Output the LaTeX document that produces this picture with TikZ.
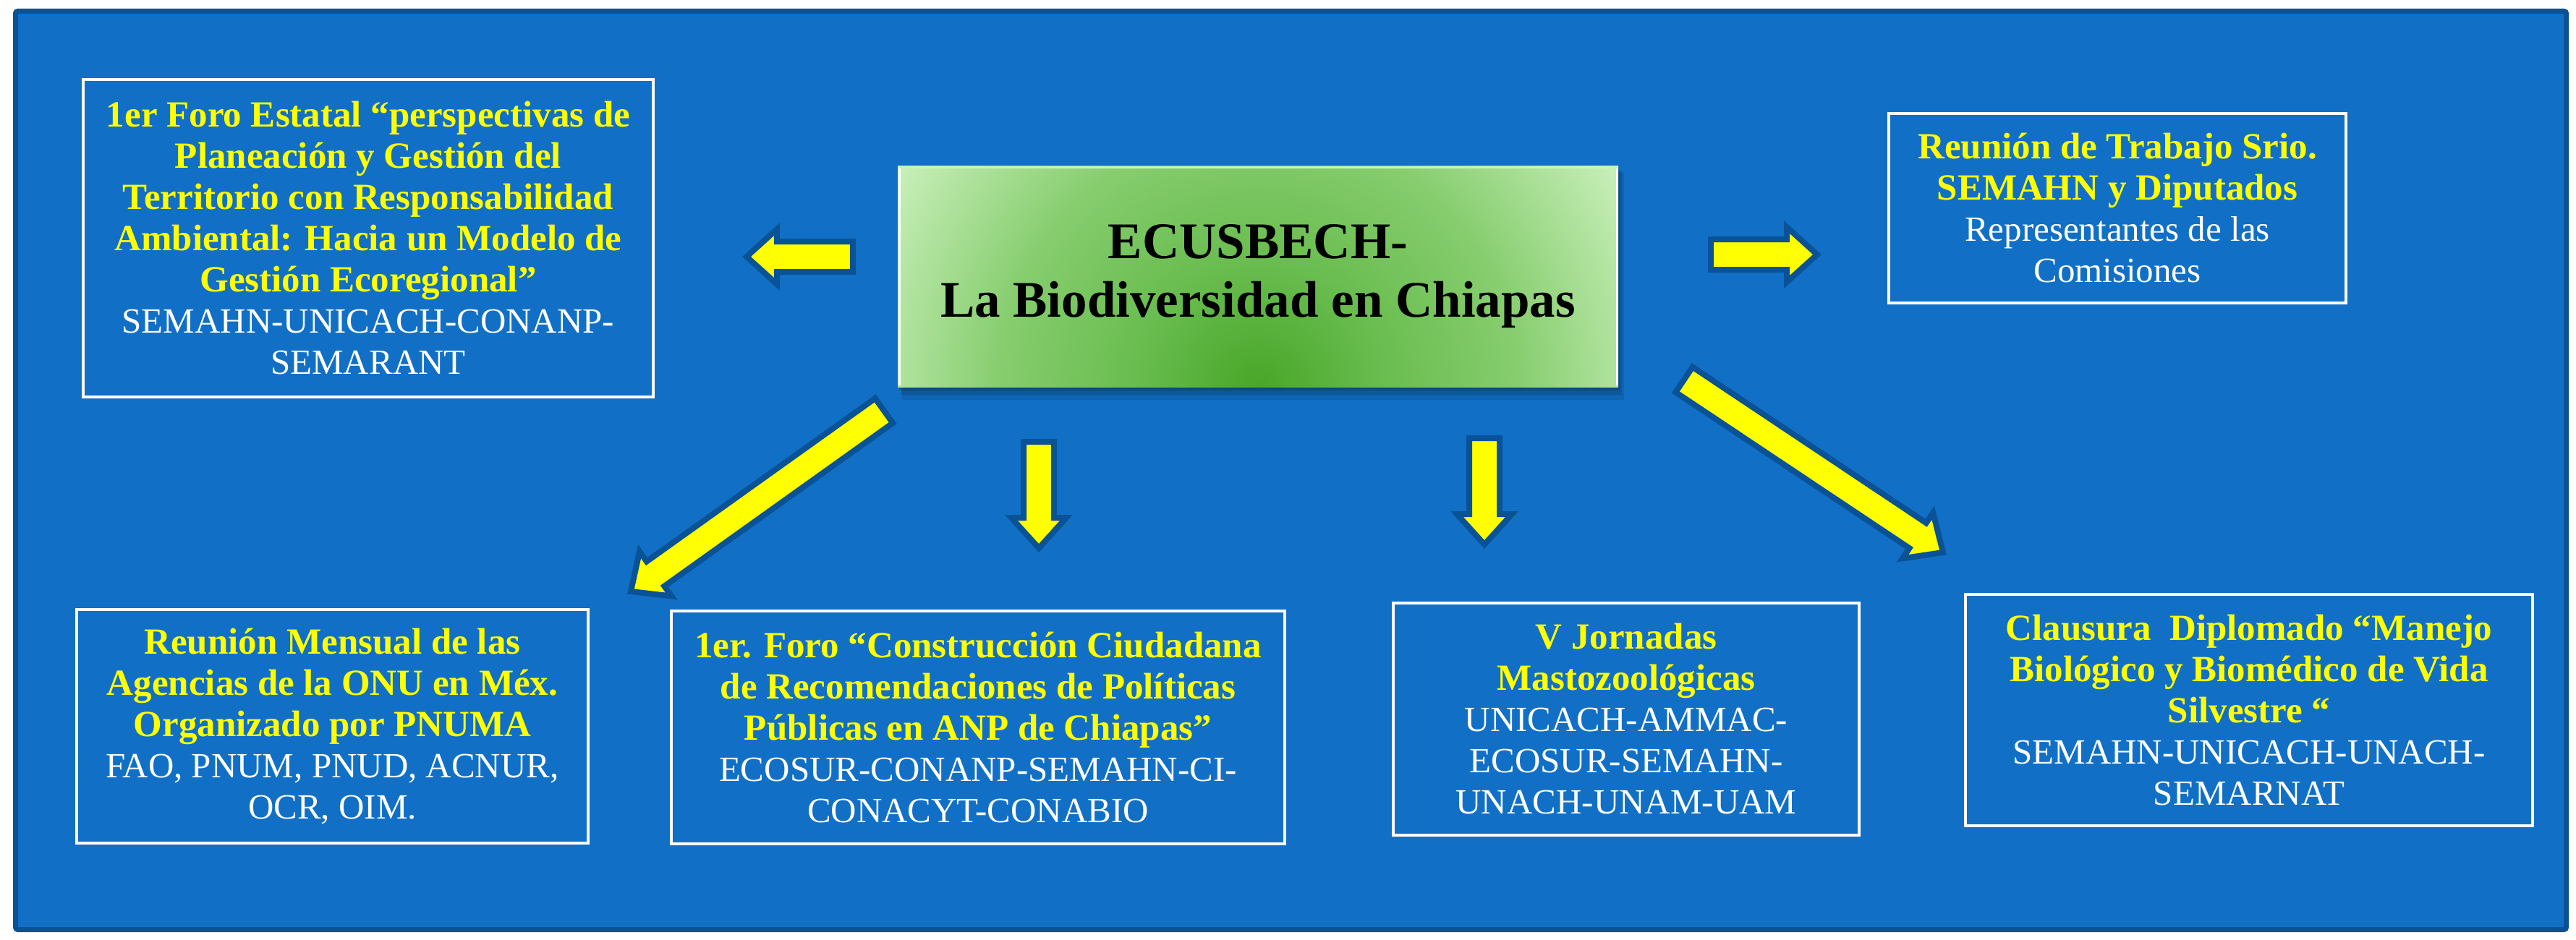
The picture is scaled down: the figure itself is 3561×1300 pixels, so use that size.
\documentclass[tikz,border=0pt]{standalone}
\usepackage{fontspec}
\setmainfont{Liberation Serif}
\usetikzlibrary{calc}
\definecolor{bgblue}{RGB}{17,112,198}
\definecolor{frameblue}{RGB}{11,82,148}
\definecolor{arrowedge}{RGB}{10,82,150}
\definecolor{signyellow}{RGB}{255,255,0}
\definecolor{gdark}{RGB}{72,166,40}
\definecolor{gmid2}{RGB}{104,188,78}
\definecolor{gmid}{RGB}{134,205,110}
\definecolor{glight}{RGB}{204,241,190}
\pgfdeclareradialshading{greenglow}{\pgfpoint{0bp}{0bp}}{color(0bp)=(gdark); color(7bp)=(gmid2); color(15bp)=(gmid); color(25bp)=(glight); color(50bp)=(glight)}
\newcommand{\yl}[1]{{\bfseries\color{signyellow}#1}}
\newcommand{\wl}[1]{{\fontsize{49}{57}\selectfont #1}}
\tikzset{
  frame/.style={fill=bgblue, draw=frameblue, line width=7pt, rounded corners=3pt},
  infobox/.style={draw=white, line width=4pt, align=center, inner sep=0pt, text=white,
    font=\fontsize{51}{57}\selectfont},
  centerbox/.style={align=center, inner sep=0pt, text=black,
    font=\bfseries\fontsize{71}{81}\selectfont, minimum width=996pt, minimum height=305pt},
  bigarrow/.style={fill=signyellow, draw=arrowedge, line width=8pt, line join=miter},
}
% block arrow from tail #1 to tip #2
\newcommand{\blockarr}[2]{%
  \coordinate (hb) at ($(#2)!42pt!(#1)$);
  \draw[bigarrow] ($(#1)!21pt!90:(#2)$) -- ($(hb)!21pt!90:(#2)$) -- ($(hb)!38pt!90:(#2)$)
    -- (#2) -- ($(hb)!38pt!-90:(#2)$) -- ($(hb)!21pt!-90:(#2)$) -- ($(#1)!21pt!-90:(#2)$) -- cycle;
}
\begin{document}
\begin{tikzpicture}[x=1pt,y=-1pt]
\useasboundingbox (0,0) rectangle (3561,1300);
\fill[white] (0,0) rectangle (3561,1300);
\draw[frame] (21.5,15.5) rectangle (3547.5,1285.5);

% central green box
\fill[black, opacity=0.10] (1247,238) rectangle (2245,553);
\fill[black, opacity=0.12] (1245,236) rectangle (2242,546);
\fill[black, opacity=0.15] (1243,234) rectangle (2239,540);
\begin{scope}
  \clip (1241,230) rectangle (2237,535);
  \shade[shading=greenglow] (1739,535) circle (592);
\end{scope}
\draw[white, line width=3pt] (1243,233) -- (1243,533);
\draw[white, line width=3pt] (2235,233) -- (2235,533);
\draw[glight, line width=3pt] (1241,231.5) -- (2237,231.5);
\node[centerbox] (center) at (1739,382.5) {ECUSBECH-\\La Biodiversidad en Chiapas};

% information boxes
\node[infobox, minimum width=788pt, minimum height=439pt] (b1) at (509,329.5) {%
\yl{1er Foro Estatal “perspectivas de}\\
\yl{Planeación y Gestión del}\\
\yl{Territorio con Responsabilidad}\\
\yl{Ambiental: Hacia un Modelo de}\\
\yl{Gestión Ecoregional”}\\
\wl{SEMAHN-UNICACH-CONANP-}\\
\wl{SEMARANT}};

\node[infobox, minimum width=632pt, minimum height=262pt] (b6) at (2927,288) {%
\yl{Reunión de Trabajo Srio.}\\
\yl{SEMAHN y Diputados}\\
\wl{Representantes de las}\\
\wl{Comisiones}};

\node[infobox, minimum width=707pt, minimum height=323pt] (b2) at (459.5,1004.5) {%
\yl{Reunión Mensual de las}\\
\yl{Agencias de la ONU en Méx.}\\
\yl{Organizado por PNUMA}\\
\wl{FAO, PNUM, PNUD, ACNUR,}\\
\wl{OCR, OIM.}};

\node[infobox, minimum width=848pt, minimum height=322pt] (b3) at (1352,1006) {%
\yl{1er. Foro “Construcción Ciudadana}\\
\yl{de Recomendaciones de Políticas}\\
\yl{Públicas en ANP de Chiapas”}\\
\wl{ECOSUR-CONANP-SEMAHN-CI-}\\
\wl{CONACYT-CONABIO}};

\node[infobox, minimum width=644pt, minimum height=321pt] (b4) at (2248,994.5) {%
\yl{V Jornadas}\\
\yl{Mastozoológicas}\\
\wl{UNICACH-AMMAC-}\\
\wl{ECOSUR-SEMAHN-}\\
\wl{UNACH-UNAM-UAM}};

\node[infobox, minimum width=784pt, minimum height=320pt] (b5) at (3109,982) {%
\yl{Clausura~~Diplomado “Manejo}\\
\yl{Biológico y Biomédico de Vida}\\
\yl{Silvestre “}\\
\wl{SEMAHN-UNICACH-UNACH-}\\
\wl{SEMARNAT}};

% arrows
\coordinate (a1s) at (1179,355);  \coordinate (a1e) at (1032,355);
\coordinate (a2s) at (2365,352);  \coordinate (a2e) at (2512,352);
\coordinate (a3s) at (1436,611);  \coordinate (a3e) at (1436,758);
\coordinate (a4s) at (2052,606);  \coordinate (a4e) at (2052,753);
\coordinate (a5s) at (1222,568);  \coordinate (a5e) at (872,818);
\coordinate (a6s) at (2328,525);  \coordinate (a6e) at (2686,764);
\blockarr{a1s}{a1e}
\blockarr{a2s}{a2e}
\blockarr{a3s}{a3e}
\blockarr{a4s}{a4e}
\blockarr{a5s}{a5e}
\blockarr{a6s}{a6e}
\end{tikzpicture}
\end{document}
